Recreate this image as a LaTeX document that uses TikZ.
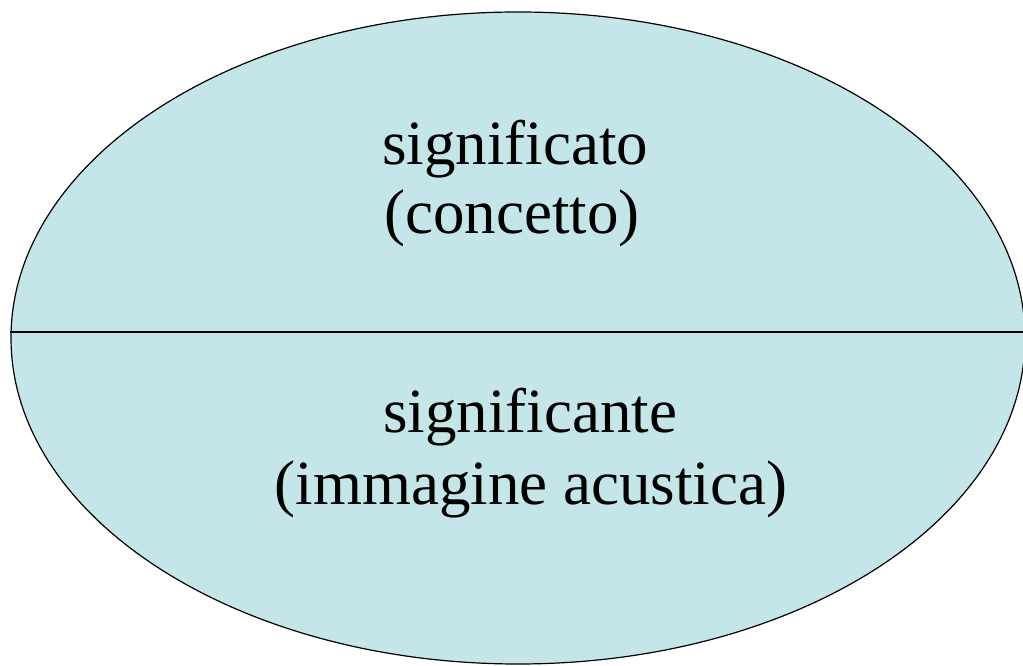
\documentclass[tikz,border=0pt]{standalone}
\usepackage{fontspec}
\setmainfont{Liberation Serif}
\usetikzlibrary{shapes.geometric}
\definecolor{azzurro}{RGB}{196,230,232}
\begin{document}
\begin{tikzpicture}[x=1pt, y=1pt,
        voce/.style={anchor=base, inner sep=0pt, font=\fontsize{63}{70}\selectfont}]
    \useasboundingbox (0, 0) rectangle (1023, 666);
    \clip (0, 0) rectangle (1023, 666);
    % il segno: un'ellisse divisa in due
    \node[ellipse, draw, fill=azzurro, line width=1.2pt, inner sep=0pt,
          minimum width=1014, minimum height=652] (segno) at (518, 328) {};
    \coordinate (sinistra) at ([yshift=6pt]segno.west);
    \coordinate (destra) at ([yshift=6pt]segno.east);
    \draw[line width=1.2pt] (sinistra) -- (destra);

    \node[voce] (significato) at (515, 501) {significato};
    \node[voce] (concetto) at (512, 432) {(concetto)};
    \node[voce] (significante) at (530, 233) {significante};
    \node[voce] (immagine) at (531, 161) {(immagine acustica)};
\end{tikzpicture}
\end{document}
